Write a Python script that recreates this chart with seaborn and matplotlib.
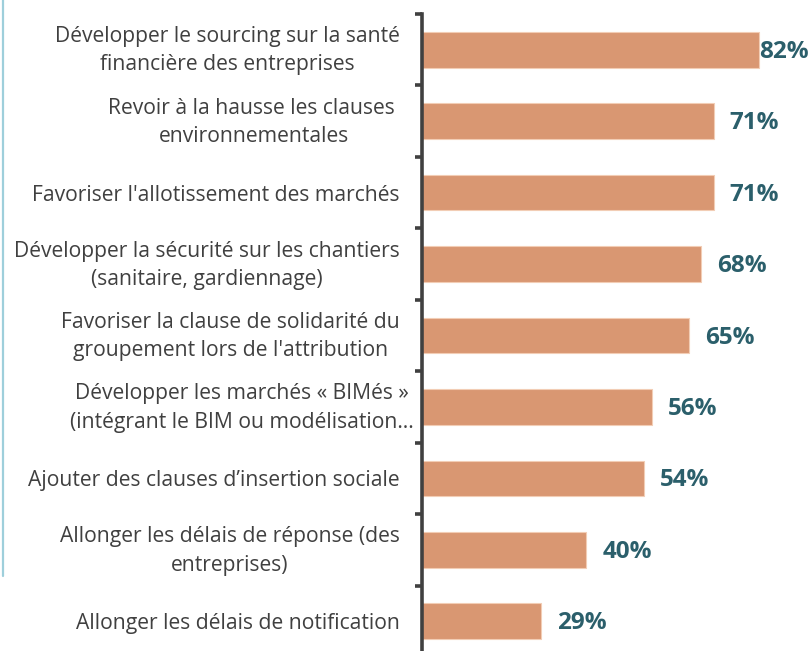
import matplotlib
matplotlib.use("Agg")
import matplotlib.pyplot as plt
import matplotlib.transforms as mtransforms
from matplotlib.lines import Line2D
import seaborn as sns
import pandas as pd
import numpy as np

categories = [
    "Développer le sourcing sur la santé\nfinancière des entreprises",
    "Revoir à la hausse les clauses \nenvironnementales",
    "Favoriser l'allotissement des marchés",
    "Développer la sécurité sur les chantiers\n(sanitaire, gardiennage)",
    "Favoriser la clause de solidarité du\ngroupement lors de l'attribution",
    "Développer les marchés « BIMés »\n(intégrant le BIM ou modélisation…",
    "Ajouter des clauses d’insertion sociale",
    "Allonger les délais de réponse (des\nentreprises)",
    "Allonger les délais de notification",
]
values = [82, 71, 71, 68, 65, 56, 54, 40, 29]
value_labels = ["82%", "71%", "71%", "68%", "65%", "56%", "54%", "40%", "29%"]

sns.set_theme(style="white")
plt.rcParams["font.family"] = ["Open Sans", "DejaVu Sans"]

BAR = "#D99772"
TXT = "#404040"
VAL = "#2B5F6B"

df = pd.DataFrame({"cat": categories, "val": values})

fig = plt.figure(figsize=(8.08, 6.51), dpi=100)
ax = fig.add_axes([422 / 808, -6 / 651, 386 / 808, 643 / 651])

sns.barplot(data=df, x="val", y="cat", orient="h", color=BAR, width=0.5,
            edgecolor="#F2CDB5", linewidth=0.8, saturation=1, ax=ax)

ax.set_xlim(0, 94)
ax.set_ylim(len(categories) - 0.5, -0.5)
ax.set_xlabel("")
ax.set_ylabel("")
ax.set_xticks([])

for s in ["top", "right", "bottom"]:
    ax.spines[s].set_visible(False)
ax.spines["left"].set_color(TXT)
ax.spines["left"].set_linewidth(2.6)

ax.set_yticks(range(len(categories)))
ax.set_yticklabels(categories, fontsize=15.2, color=TXT, multialignment="center",
                   linespacing=1.45)
ax.tick_params(axis="y", which="major", left=True, length=0, pad=16)
ax.set_yticks(np.arange(-0.5, len(categories), 1.0), minor=True)
ax.tick_params(axis="y", which="minor", left=True, length=5, width=2.6, color=TXT,
               direction="out")

for lbl in ax.get_yticklabels():
    txt = lbl.get_text()
    dx = 14 if "BIMés" in txt else 0
    dy = 5 if "\n" in txt else 0
    if dx or dy:
        lbl.set_transform(lbl.get_transform() +
                          mtransforms.ScaledTranslation(dx / 100, dy / 100, fig.dpi_scale_trans))

for i, (v, t) in enumerate(zip(values, value_labels)):
    off = 0 if i == 0 else 16
    ax.annotate(t, xy=(v, i), xytext=(off, -2), textcoords="offset pixels",
                ha="left", va="center", fontsize=17.5, fontweight="bold", color=VAL)

fig.add_artist(Line2D([2.5 / 808, 2.5 / 808], [1, 1 - 576 / 651], transform=fig.transFigure,
                      color="#9ECFDB", linewidth=1.6))

fig.savefig("out.png", dpi=100)
